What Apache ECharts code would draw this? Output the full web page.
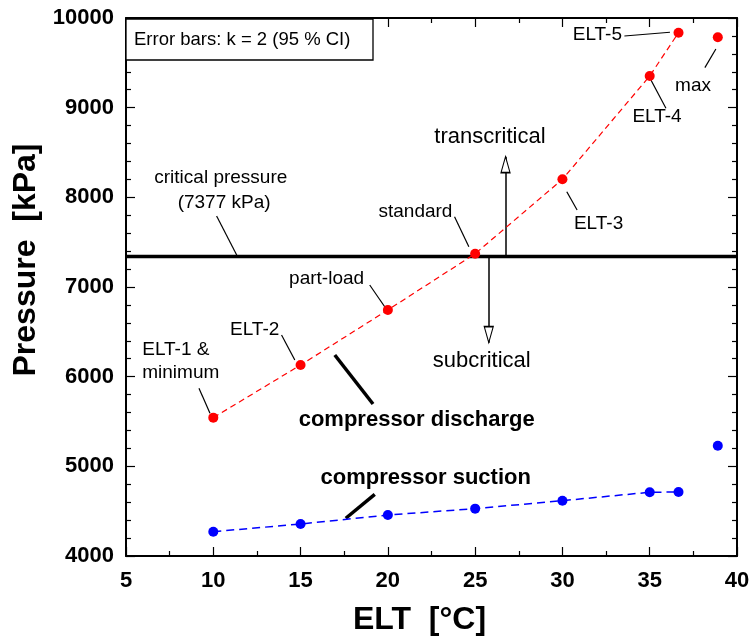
<!DOCTYPE html>
<html>
<head>
<meta charset="utf-8">
<script src="https://cdn.jsdelivr.net/npm/echarts@6/dist/echarts.min.js"></script>
<style>html,body{margin:0;padding:0;background:#fff}#c{width:753px;height:643px}</style>
</head>
<body>
<div id="c"></div>
<script>
// ---- data ----
const elt = [10, 15, 20, 25, 30, 35, 36.65];
const discharge = [5543, 6130, 6744, 7371, 8201, 9353, 9836];
const suction = [4271, 4357, 4457, 4528, 4617, 4711, 4714];
const maxElt = 38.9;
const maxDischarge = 9785;
const maxSuction = 5230;
const criticalPressure = 7340;
const xTickMin = 5, xTickMax = 40, xTickStep = 5;
const yTickMin = 4000, yTickMax = 10000, yTickStep = 1000;

// annotation anchors (data coordinates)
const labelTexts = ['ELT-5','max','ELT-4','ELT-3','standard','part-load','ELT-2','critical pressure','(7377 kPa)'];
const labelX =     [32.0, 37.48, 35.42, 32.07, 21.58, 16.49, 12.37, 10.43, 10.62];
const labelY =     [9810, 9242, 8893, 7710, 7840, 7097, 6521, 8219, 7940];
const leftLabelTexts = ['ELT-1 &', 'minimum'];
const leftLabelX = [5.90, 5.90];
const leftLabelY = [6305, 6038];
const bigLabelTexts = ['transcritical', 'subcritical'];
const bigLabelX = [25.85, 25.38];
const bigLabelY = [8670, 6178];
const boldLabelTexts = ['compressor discharge', 'compressor suction'];
const boldLabelX = [21.65, 22.17];
const boldLabelY = [5517, 4867];
const leaderThin = [
  [[33.55, 9799], [36.16, 9841]],
  [[38.79, 9654], [38.16, 9446]],
  [[35.07, 9309], [35.93, 8993]],
  [[30.25, 8063], [30.84, 7859]],
  [[23.82, 7784], [24.64, 7450]],
  [[18.96, 7022], [19.82, 6780]],
  [[13.91, 6465], [14.67, 6186]],
  [[9.18, 5870], [9.81, 5592]],
  [[10.19, 7792], [11.37, 7346]]
];
const leaderThick = [
  [[16.96, 6242], [19.15, 5695]],
  [[19.25, 4688], [17.59, 4421]]
];
const arrowUpX = 26.74, arrowUpTip = 8453;
const arrowDownX = 25.78, arrowDownTip = 6379;

const FONT = '"Liberation Sans", Arial, Helvetica, sans-serif';

const chart = echarts.init(document.getElementById('c'), null, {renderer: 'canvas'});

function axisCommon(showLabels) {
  return {
    axisLine: {show: true, onZero: false, lineStyle: {color: '#000', width: 2}},
    axisTick: {show: true, inside: true, length: 9, lineStyle: {color: '#000', width: 1.2}},
    minorTick: {show: true, length: 5, lineStyle: {color: '#000', width: 1.2}},
    splitLine: {show: false},
    axisLabel: {show: showLabels, color: '#000', fontWeight: 'bold', fontSize: 22, fontFamily: FONT,
      formatter: v => String(v)}
  };
}

const xBottom = Object.assign(axisCommon(true), {
  type: 'value', position: 'bottom', min: xTickMin, max: xTickMax, interval: xTickStep,
  name: 'ELT  [°C]', nameLocation: 'middle', nameGap: 48,
  nameTextStyle: {color: '#000', fontWeight: 'bold', fontSize: 32, fontFamily: FONT, padding: [0, 24, 0, 0]}
});
xBottom.minorTick.splitNumber = 2;
xBottom.axisLabel.margin = 14;
const xTop = Object.assign(axisCommon(false), {
  type: 'value', position: 'top', min: xTickMin, max: xTickMax, interval: xTickStep
});
xTop.minorTick.splitNumber = 2;

const yLeft = Object.assign(axisCommon(true), {
  type: 'value', position: 'left', min: yTickMin, max: yTickMax, interval: yTickStep,
  name: 'Pressure  [kPa]', nameLocation: 'middle', nameGap: 82,
  nameTextStyle: {color: '#000', fontWeight: 'bold', fontSize: 32, fontFamily: FONT, padding: [0, 0, 0, 54]}
});
yLeft.minorTick.splitNumber = 5;
yLeft.axisLabel.margin = 12;
const yRight = Object.assign(axisCommon(false), {
  type: 'value', position: 'right', min: yTickMin, max: yTickMax, interval: yTickStep
});
yRight.minorTick.splitNumber = 5;

const pairs = (xs, ys) => xs.map((x, i) => [x, ys[i]]);

function labelItems(texts, xs, ys, style) {
  return texts.map((t, i) => ({
    value: [xs[i], ys[i]],
    label: Object.assign({show: true, formatter: t, color: '#000', opacity: 1,
      textBorderWidth: 0, fontFamily: FONT}, style)
  }));
}

const labelData = [].concat(
  labelItems(labelTexts, labelX, labelY, {position: 'inside', fontSize: 19}),
  labelItems(leftLabelTexts, leftLabelX, leftLabelY, {position: 'right', distance: 0, fontSize: 19}),
  labelItems(bigLabelTexts, bigLabelX, bigLabelY, {position: 'inside', fontSize: 22}),
  labelItems(boldLabelTexts, boldLabelX, boldLabelY, {position: 'inside', fontSize: 22, fontWeight: 'bold'})
);

const option = {
  animation: false,
  backgroundColor: '#fff',
  grid: {left: 126, right: 16, top: 18, bottom: 87, containLabel: false},
  xAxis: [xBottom, xTop],
  yAxis: [yLeft, yRight],
  series: [
    {
      type: 'line', name: 'critical', data: [[xTickMin, criticalPressure], [xTickMax, criticalPressure]],
      showSymbol: false, symbol: 'none', lineStyle: {color: '#000', width: 3.5}, z: 3
    },
    {
      type: 'lines', coordinateSystem: 'cartesian2d', name: 'arrows',
      data: [
        {coords: [[arrowUpX, criticalPressure], [arrowUpX, arrowUpTip]]},
        {coords: [[arrowDownX, criticalPressure], [arrowDownX, arrowDownTip]]}
      ],
      lineStyle: {color: '#000', width: 1.5, opacity: 1}, z: 4
    },
    {
      type: 'scatter', name: 'arrowheads',
      data: [
        {value: [arrowUpX, arrowUpTip], symbolOffset: [0, 8]},
        {value: [arrowDownX, arrowDownTip], symbolRotate: 180, symbolOffset: [0, -8]}
      ],
      symbol: 'triangle', symbolSize: [9, 16],
      itemStyle: {color: '#fff', borderColor: '#000', borderWidth: 1.3, opacity: 1}, z: 5
    },
    {
      type: 'lines', coordinateSystem: 'cartesian2d', name: 'leadersThin',
      data: leaderThin.map(c => ({coords: c})),
      lineStyle: {color: '#000', width: 1.2, opacity: 1}, z: 4
    },
    {
      type: 'lines', coordinateSystem: 'cartesian2d', name: 'leadersThick',
      data: leaderThick.map(c => ({coords: c})),
      lineStyle: {color: '#000', width: 3.5, opacity: 1}, z: 4
    },
    {
      type: 'line', name: 'compressor discharge', data: pairs(elt, discharge),
      symbol: 'circle', symbolSize: 10, showSymbol: true,
      itemStyle: {color: '#ff0000', opacity: 1},
      lineStyle: {color: '#ff0000', width: 1.2, type: [6, 4]}, z: 6
    },
    {
      type: 'scatter', name: 'discharge max', data: [[maxElt, maxDischarge]],
      symbol: 'circle', symbolSize: 10, itemStyle: {color: '#ff0000', opacity: 1}, z: 6
    },
    {
      type: 'line', name: 'compressor suction', data: pairs(elt, suction),
      symbol: 'circle', symbolSize: 10, showSymbol: true,
      itemStyle: {color: '#0000ff', opacity: 1},
      lineStyle: {color: '#0000ff', width: 1.5, type: [8, 5]}, z: 6
    },
    {
      type: 'scatter', name: 'suction max', data: [[maxElt, maxSuction]],
      symbol: 'circle', symbolSize: 10, itemStyle: {color: '#0000ff', opacity: 1}, z: 6
    },
    {
      type: 'scatter', name: 'labels', data: labelData,
      symbolSize: 1, itemStyle: {color: 'rgba(0,0,0,0)', opacity: 1}, silent: true, z: 7
    }
  ],
  graphic: [
    {
      type: 'rect', z: 100,
      shape: {x: 126, y: 19, width: 247, height: 41},
      style: {fill: '#fff', stroke: '#000', lineWidth: 1.3}
    },
    {
      type: 'text', z: 101, x: 134, y: 40,
      style: {text: 'Error bars: k = 2 (95 % CI)', fontSize: 18.5, fontFamily: FONT, fill: '#000', verticalAlign: 'middle', align: 'left'}
    }
  ]
};
chart.setOption(option);
</script>
</body>
</html>
